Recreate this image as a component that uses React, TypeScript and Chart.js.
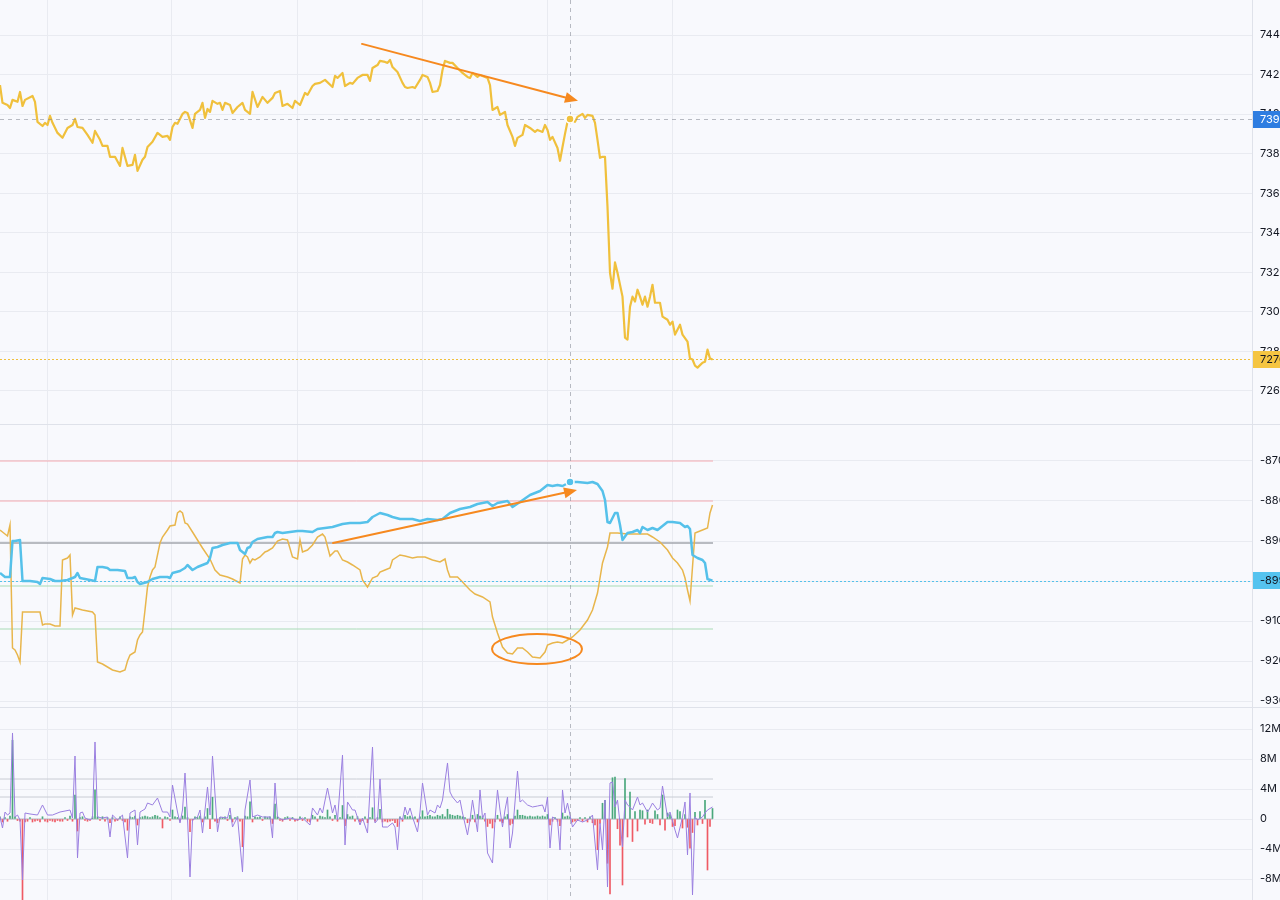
import React, { useEffect, useRef } from 'react';
import { Chart, registerables } from 'chart.js';

Chart.register(...registerables);
Chart.defaults.font.family = 'Inter, "Noto Sans", sans-serif';

// ---------- shared x domain (bar index) ----------
const X_MIN = 0;
const X_MAX = 500.8;
const GRID_X = [18.8, 68.8, 118.8, 168.8, 218.8, 268.8];
const CROSS_X = 228;
const LEVEL_END = 285.2;

// ---------- price panel ----------
const priceTicks = [7260, 7280, 7300, 7320, 7340, 7360, 7380, 7400, 7420, 7440];
const priceIdx = [
  0, 1, 3, 4, 5, 7, 8, 9, 10, 13, 14, 15, 17, 18, 19, 20, 21, 23, 25, 27, 29, 30, 31, 33, 35, 37, 38, 40, 41, 43,
  44, 46, 48, 49, 51, 53, 54, 55, 57, 58, 59, 61, 63, 64, 65, 67, 68, 69, 70, 71, 73, 74, 75, 77, 78, 80, 81, 82, 83, 84,
  85, 87, 88, 89, 90, 92, 93, 95, 97, 98, 100, 101, 103, 105, 107, 109, 110, 112, 113, 115, 117, 118, 120, 122, 123, 125, 126, 128, 130, 133,
  134, 135, 137, 138, 140, 141, 143, 145, 147, 148, 149, 151, 152, 154, 155, 156, 157, 159, 161, 162, 163, 165, 166, 168, 169, 171, 172, 173, 175, 176,
  177, 178, 180, 181, 183, 185, 187, 188, 189, 191, 192, 193, 195, 196, 197, 199, 200, 202, 203, 205, 206, 207, 209, 210, 212, 214, 215, 217, 218, 219,
  220, 221, 223, 224, 225, 226, 227, 228, 230, 231, 233, 234, 235, 237, 238, 239, 240, 241, 242, 243, 244, 245, 246, 247, 249, 250, 251, 252, 253, 254,
  255, 256, 257, 258, 259, 260, 261, 262, 264, 265, 267, 268, 269, 270, 272, 273, 275, 276, 277, 278, 279, 281, 282, 283, 284, 285,
];
const priceVal = [
  7414.7, 7405.7, 7404.6, 7403.1, 7407.2, 7406.2, 7411.2, 7404.1, 7407.2, 7409.2, 7406.2, 7396.1, 7394.0, 7395.6, 7394.5, 7399.1, 7395.6, 7390.5, 7388.0, 7393.0, 7394.5, 7397.6, 7393.5, 7393.0, 7389.5, 7385.5, 7391.5, 7387.0, 7383.9, 7383.9,
  7378.4, 7378.4, 7373.8, 7382.9, 7373.8, 7374.3, 7379.4, 7371.3, 7376.9, 7378.4, 7383.4, 7386.0, 7390.5, 7389.5, 7388.5, 7389.0, 7387.0, 7393.5, 7395.6, 7395.1, 7400.1, 7401.1, 7400.6, 7393.0, 7400.1, 7402.1, 7405.7, 7398.1, 7402.6, 7401.1,
  7406.7, 7405.2, 7405.7, 7402.1, 7405.7, 7404.6, 7400.6, 7403.6, 7405.7, 7402.1, 7400.1, 7411.2, 7403.6, 7408.7, 7405.7, 7408.2, 7410.7, 7411.7, 7404.1, 7405.2, 7403.1, 7406.7, 7404.6, 7410.7, 7409.7, 7414.2, 7415.3, 7415.8, 7417.3, 7413.7,
  7419.3, 7418.3, 7420.8, 7414.2, 7415.8, 7415.3, 7418.3, 7419.8, 7419.8, 7416.8, 7423.3, 7424.8, 7426.9, 7426.4, 7425.9, 7427.4, 7423.8, 7421.3, 7415.8, 7413.7, 7413.2, 7413.7, 7413.2, 7417.3, 7419.8, 7418.8, 7415.8, 7411.2, 7411.7, 7414.7,
  7422.3, 7426.9, 7425.9, 7425.9, 7423.3, 7420.8, 7418.8, 7418.3, 7420.8, 7418.8, 7419.8, 7419.3, 7418.3, 7414.7, 7402.1, 7403.6, 7399.6, 7401.1, 7394.5, 7388.5, 7383.9, 7388.0, 7389.5, 7394.5, 7393.0, 7391.0, 7392.0, 7391.0, 7394.5, 7392.0,
  7387.0, 7388.5, 7382.9, 7376.4, 7383.4, 7390.0, 7396.1, 7397.5, 7396.1, 7398.6, 7400.1, 7398.1, 7399.6, 7399.1, 7395.6, 7387.0, 7377.9, 7378.4, 7378.4, 7353.1, 7319.8, 7311.7, 7325.0, 7319.8, 7307.7, 7287.0, 7286.0, 7302.6, 7307.7, 7305.2,
  7311.2, 7307.7, 7303.6, 7307.7, 7302.6, 7307.7, 7313.7, 7304.6, 7304.6, 7297.6, 7296.0, 7293.5, 7295.1, 7288.5, 7293.5, 7288.5, 7285.0, 7276.4, 7275.9, 7272.8, 7271.8, 7274.3, 7274.8, 7280.9, 7276.4, 7276.0,
];
const priceArrow = { from: [144.8, 7435.5], to: [231.2, 7406.7] };

// ---------- oscillator panel ----------
const oscTicks = [-930, -920, -910, -900, -890, -880, -870];
const cyanIdx = [
  0, 2, 4, 5, 6, 8, 9, 12, 15, 16, 17, 20, 22, 24, 27, 30, 31, 32, 34, 36, 38, 39, 41, 43, 44, 47, 50, 51, 53, 54,
  55, 56, 59, 61, 64, 67, 68, 69, 72, 74, 75, 77, 79, 81, 83, 84, 85, 87, 89, 92, 95, 96, 98, 99, 100, 101, 103, 107, 109, 110,
  111, 113, 116, 119, 121, 125, 127, 130, 133, 137, 140, 144, 147, 149, 152, 155, 157, 160, 163, 165, 168, 171, 175, 177, 180, 184, 188, 191, 195, 197,
  199, 201, 203, 205, 208, 212, 216, 219, 221, 223, 225, 228, 231, 235, 237, 239, 241, 242, 243, 244, 246, 247, 248, 249, 251, 253, 255, 256, 257, 259,
  261, 263, 265, 267, 269, 272, 274, 275, 276, 277, 279, 281, 282, 283, 285,
];
const cyanVal = [
  -898, -899, -899, -890, -890, -889.75, -900, -900, -900.25, -900.75, -899.25, -899.5, -900, -900, -899.75, -899, -898, -899.25, -899.5, -899.75, -900, -896.5, -896.5, -896.75, -897.25, -897.25, -897.5, -899.25, -899.25, -899,
  -900.25, -900.75, -900.25, -899.5, -899, -899, -899.25, -898, -897.5, -896.75, -896, -897.25, -896.5, -896, -895.5, -894.25, -891.75, -891.5, -891, -890.5, -890.5, -892.25, -893.25, -891.75, -891.5, -890.25, -889.5, -889, -889, -888,
  -887.75, -888, -887.75, -887.5, -887.5, -887.75, -887, -886.75, -886.5, -885.75, -885.5, -885.5, -885.25, -884, -883, -883.5, -884, -884.5, -884.5, -884.5, -885, -884.5, -884.75, -884.5, -883, -882, -881.5, -880.75, -880.25, -881.25,
  -880.5, -880.25, -880, -881.5, -880.25, -878.5, -877.5, -876, -876.25, -876, -876.25, -875.25, -875.25, -875.5, -875.25, -875.75, -877.5, -879.75, -885.25, -885.5, -883, -883, -886, -889.75, -888, -887.75, -887.25, -888, -886.5, -887.25,
  -886.75, -887.25, -886.25, -885.25, -885.25, -885.5, -886.5, -886.25, -887, -893.5, -894.25, -894.75, -895.5, -899.5, -899.9,
];
const goldIdx = [
  0, 1, 3, 4, 5, 6, 7, 8, 9, 12, 16, 17, 18, 20, 22, 24, 25, 27, 28, 29, 30, 33, 37, 38, 39, 41, 43, 45, 48, 50,
  51, 52, 54, 55, 56, 57, 58, 59, 60, 61, 62, 64, 65, 67, 68, 70, 71, 72, 73, 74, 75, 77, 79, 81, 84, 86, 88, 91, 93, 96,
  97, 98, 99, 100, 101, 102, 104, 106, 107, 109, 111, 113, 115, 117, 119, 120, 121, 123, 125, 127, 129, 130, 132, 134, 135, 137, 139, 141, 144, 145,
  147, 149, 151, 152, 154, 156, 157, 160, 162, 165, 167, 170, 173, 176, 178, 179, 180, 183, 185, 188, 190, 193, 196, 197, 199, 201, 203, 205, 207, 209,
  211, 213, 216, 218, 219, 221, 223, 225, 227, 229, 232, 235, 237, 239, 241, 243, 244, 247, 251, 255, 259, 261, 264, 267, 269, 271, 273, 274, 275, 276,
  277, 278, 279, 281, 283, 284, 285,
];
const goldVal = [
  -887.25, -887.75, -888.75, -886, -916.75, -917.25, -918.5, -920.25, -907.75, -907.75, -907.75, -911, -910.75, -910.75, -911.25, -911.25, -894.75, -894.25, -893.5, -908.5, -906.75, -907.25, -907.75, -908.5, -920.25, -920.75, -921.5, -922.25, -922.75, -922.25,
  -920, -918.5, -917.75, -914.75, -913.5, -912.75, -907.25, -901.5, -899, -897.25, -896.5, -890.5, -889, -887.25, -886.25, -886, -883, -882.5, -883, -885.5, -885.75, -887.75, -889.75, -891.75, -894.5, -897.25, -898.5, -899, -899.5, -900.5,
  -894.5, -893.5, -894, -895.5, -894.5, -894.75, -894, -892.75, -892.5, -891.75, -890, -889.5, -889.75, -894, -894.5, -889.75, -892.75, -892.25, -891, -889, -888.25, -889, -893.75, -892.5, -892.5, -894.75, -895.25, -896, -897.25, -899.75,
  -901.5, -899.25, -898.75, -897.75, -897.25, -896.75, -894.75, -893.5, -893.75, -894.25, -894, -894, -894.75, -895.25, -894.5, -897.25, -899, -899, -900.25, -902.25, -903.25, -904, -905.25, -909, -913, -916.5, -918, -918.25, -916.75, -916.75,
  -917.75, -919, -919.25, -917.75, -916, -915.5, -915.25, -915.5, -914.75, -914, -912.25, -909.75, -907.25, -903, -895.5, -891.5, -888, -888, -888.25, -888.25, -888.25, -889, -890.25, -892.25, -894.25, -895.5, -897.25, -899.25, -902.25, -905,
  -896.5, -888, -887.75, -887.25, -886.75, -883, -881,
];
const oscPinkLevels = [-870, -880];
const oscGrayLevels = [-890.5];
const oscGreenLevels = [-901.25, -912];
const oscArrow = { from: [133.2, -890.5], to: [230.8, -877.25] };
const oscEllipse = { cx: 214.8, cy: -917, rx: 18, ry: 3.75 };

// ---------- volume delta panel (millions) ----------
const volTicks = [-8, -4, 0, 4, 8, 12];
const histVal = [
  0.3, -0.4, 0.2, -0.3, 0.4, 10.5, 0.3, -0.2, -0.3, -11.5,
  -0.4, -0.3, 0.2, -0.4, -0.3, -0.2, -0.4, 0.3, -0.3, -0.4,
  -0.2, -0.3, -0.4, -0.2, -0.3, -0.3, 0.2, -0.2, 0.4, -0.3,
  3.2, -1.6, 0.2, 0.3, -0.2, -0.3, -0.2, 0.3, 3.9, 0.3,
  -0.2, 0.3, -0.3, 0.2, -0.5, 0.2, -0.3, -0.2, 0.3, -0.2,
  -0.4, -1.5, 0.3, 0.2, 0.4, -0.8, 0.2, 0.3, 0.4, 0.3,
  0.2, 0.3, 0.5, 0.4, 0.2, -1.2, 0.3, 0.2, -0.2, 1.2,
  0.3, 0.2, -0.3, 0.4, 1.6, 0.2, -1.7, -0.2, 0.3, 0.2,
  0.4, -0.4, 0.3, 1.4, -1.3, 2.9, -0.3, -0.5, 0.2, 0.2,
  0.3, -0.2, 0.5, -0.4, 0.2, 0.3, -0.3, -3.7, 0.4, 0.3,
  2.3, -0.4, 0.3, 0.2, 0.3, -0.2, 0.3, 0.2, 0.3, -0.6,
  2.0, 0.3, -0.2, -0.3, 0.2, 0.3, -0.2, 0.2, -0.3, -0.2,
  0.3, -0.2, 0.2, -0.3, -0.4, 0.5, 0.3, -0.3, 0.4, 0.3,
  0.2, 1.2, 0.3, -0.2, 0.5, -0.3, 0.2, 1.8, -0.9, 0.6,
  0.3, 0.4, -0.3, 0.3, -0.4, -0.2, 0.3, -0.5, 0.2, 1.5,
  -0.3, 0.2, 1.3, -0.4, -0.3, -0.4, -0.3, -0.2, -0.5, -1.0,
  0.3, -0.3, 0.5, 0.3, 0.4, 0.2, 0.3, -0.4, 0.3, 1.1,
  0.3, 0.4, 0.5, 0.3, 0.3, 0.5, 0.4, 0.6, 0.3, 1.3,
  0.6, 0.5, 0.4, 0.5, 0.4, 0.3, 0.2, -0.5, -0.3, 0.5,
  -0.4, 0.6, 0.4, 0.3, -0.3, -1.0, -0.6, -1.2, -0.4, 0.5,
  -0.3, -0.5, 0.3, 0.6, -0.8, -0.6, 0.4, 1.2, 0.5, 0.5,
  0.4, 0.3, 0.4, 0.3, 0.3, 0.4, 0.3, 0.4, 0.3, 0.6,
  -0.8, -0.3, 0.2, -0.3, -0.9, 0.8, 0.3, 0.4, 0.3, -0.4,
  -0.3, -0.2, 0.2, -0.3, 0.2, -0.4, 0.3, -0.5, -0.8, -4.1,
  -0.6, 2.1, 2.5, -5.9, -10.0, 5.5, 5.6, -1.3, -3.5, -8.8,
  5.4, -2.4, 3.6, -3.0, 1.0, -1.6, 1.2, 1.1, -0.7, 1.2,
  -0.5, -0.6, 1.1, 0.6, -0.8, 3.2, -1.5, 0.8, 0.6, -1.0,
  -0.9, 1.2, 1.0, -1.2, 0.6, -1.1, -3.9, -1.8, 0.9, -0.8,
  1.0, -0.6, 2.5, -6.8, -1.0, 1.4,
];
const purpleIdx = [
  0, 1, 2, 3, 4, 5, 6, 7, 8, 9, 10, 12, 15, 17, 19, 21, 24, 28, 29, 30, 31, 32, 33, 34, 36, 37, 38, 39, 41, 43,
  44, 45, 47, 49, 51, 52, 54, 55, 56, 58, 59, 61, 63, 65, 67, 68, 69, 71, 72, 73, 74, 75, 76, 77, 79, 80, 81, 83, 84, 85,
  87, 88, 91, 92, 93, 95, 97, 98, 100, 101, 103, 105, 108, 109, 110, 111, 113, 116, 119, 121, 124, 125, 127, 128, 129, 131, 133, 134, 135, 137,
  138, 139, 141, 142, 144, 145, 147, 149, 150, 151, 152, 153, 155, 157, 158, 159, 160, 161, 162, 163, 164, 165, 167, 168, 169, 171, 172, 174, 175, 176,
  177, 179, 180, 181, 183, 184, 185, 187, 188, 189, 191, 192, 193, 194, 195, 197, 198, 199, 200, 201, 202, 203, 204, 205, 207, 208, 209, 211, 213, 215,
  217, 218, 219, 220, 221, 223, 224, 225, 226, 227, 229, 231, 233, 235, 236, 237, 239, 240, 241, 242, 243, 244, 245, 246, 247, 249, 250, 251, 252, 253,
  255, 256, 257, 259, 260, 261, 263, 264, 265, 267, 268, 270, 271, 273, 274, 275, 276, 277, 278, 279, 281, 282, 283, 285,
];
const purpleVal = [
  0.27, -1.2, 0.93, 0.53, 0.8, 11.47, 0.27, 0.53, -0.13, -8.13, 0.8, 0.67, 0.53, 1.87, 0.53, 0.53, 0.93, 1.2, 0.13, 8.4, -5.2, 0.8, 0.93, 0.13, -0.13, 0.13, 10.27, 0.27, 0.13, 0.27,
  -2.4, 0.53, -0.13, 0.53, -5.2, 0.8, 1.2, -3.47, 0.93, 1.33, 2.13, 1.87, 2.8, 0.93, 0.93, 0.27, 4.53, 0.93, -0.53, 1.2, 6.13, 0.13, -7.73, -0.13, 0.27, 1.2, -1.87, 4.27, 0.53, 8.4,
  -1.73, 0.27, 0.13, 1.47, -1.07, 0.27, -7.07, 1.2, 5.2, 0.27, 0.53, 0.27, 0.27, -2.53, 4.8, 0.27, -0.13, 0.13, -0.13, 0.13, -0.8, 1.47, 0.53, 1.47, 0.8, 4.13, 0.8, 1.87, -0.13, 8.53,
  -3.47, 2.27, 1.2, 1.2, -0.8, 0.13, -1.87, 9.6, -0.53, -0.13, 5.33, -1.07, -1.07, -0.53, -1.07, -4.13, 0.27, -0.13, 1.6, 0.53, 1.47, 0.27, -1.73, 0.93, 4.8, 0.53, 1.2, 0.8, 1.87, 1.47,
  2.53, 7.47, 3.6, 2.93, 2.13, 2.53, 0.8, -2.13, -0.13, 2.53, -1.73, 3.87, 0.13, 0.8, -4.53, -5.87, -0.13, 3.87, 1.2, -1.07, 1.2, 2.93, -3.87, -1.87, 6.4, 2.27, 2.53, 1.87, 1.6, 1.73,
  1.87, 0.93, 2.93, -3.87, 0.27, -0.13, -4.13, 3.87, 0.8, 2.13, -1.07, -0.13, -0.4, -0.13, 0.13, 0.53, -6.8, -0.53, -4.13, 2.53, -9.07, 4.8, 4.93, 1.6, 2.53, -3.73, 2.53, 1.87, 1.6, 1.2,
  2.93, 1.87, 2.13, 0.93, 1.47, 2.13, 1.2, 1.47, 4.4, 0.27, 0.93, -1.47, -2.53, 0.27, 2.27, -4.8, 3.47, -10.13, 0.27, -0.13, 0.27, 0.8, 1.2, 1.6,
];
const volGrayLevels = [5.33, 2.93];
const volZeroLevel = [0];

// ---------- styles ----------
const BG = '#f8f9fd';
const GRID = '#e9ebf1';
const SEP = '#dfe2ea';
const AXIS_TEXT = '#131722';
const GOLD = '#f0c03c';
const GOLD_OSC = '#e8b64c';
const CYAN = '#55c1ea';
const PURPLE = '#9a7fe0';
const GREEN_BAR = '#4aa87c';
const RED_BAR = '#ef5a64';
const ORANGE = '#f6891f';
const CROSS = 'rgba(130,134,146,0.55)';

const pts = (xs: number[], ys: number[]) => xs.map((x, i) => ({ x, y: ys[i] }));
const level = (v: number, color: string, width = 1, order = 5) => ({
  type: 'line',
  data: [{ x: 0, y: v }, { x: LEVEL_END, y: v }],
  borderColor: color,
  borderWidth: width,
  pointRadius: 0,
  order,
});

function drawArrow(ctx: any, x1: number, y1: number, x2: number, y2: number) {
  const ang = Math.atan2(y2 - y1, x2 - x1);
  const head = 13;
  const hw = 5.5;
  const bx = x2 - head * Math.cos(ang);
  const by = y2 - head * Math.sin(ang);
  ctx.strokeStyle = ORANGE;
  ctx.fillStyle = ORANGE;
  ctx.lineWidth = 2;
  ctx.lineCap = 'round';
  ctx.beginPath();
  ctx.moveTo(x1, y1);
  ctx.lineTo(bx, by);
  ctx.stroke();
  ctx.beginPath();
  ctx.moveTo(x2, y2);
  ctx.lineTo(bx + hw * Math.sin(ang), by - hw * Math.cos(ang));
  ctx.lineTo(bx - hw * Math.sin(ang), by + hw * Math.cos(ang));
  ctx.closePath();
  ctx.fill();
}

type Spec = {
  crossY?: number;
  lastLines?: { value: number; color: string }[];
  labels?: { value: number; text: string; bg: string; fg: string }[];
  point?: { x: number; y: number; color: string };
  arrows?: { from: number[]; to: number[] }[];
  ellipse?: { cx: number; cy: number; rx: number; ry: number };
};

function overlay(spec: Spec) {
  return {
    id: 'overlay',
    afterDatasetsDraw(chart: any) {
      const { ctx, chartArea: a, scales } = chart;
      const xs = scales.x;
      const ys = scales.y;
      ctx.save();
      ctx.lineWidth = 1;
      for (const l of spec.lastLines || []) {
        const y = Math.round(ys.getPixelForValue(l.value)) + 0.5;
        ctx.strokeStyle = l.color;
        ctx.setLineDash([2, 2]);
        ctx.beginPath();
        ctx.moveTo(a.left, y);
        ctx.lineTo(a.right, y);
        ctx.stroke();
      }
      ctx.strokeStyle = CROSS;
      ctx.setLineDash([4, 4]);
      const cx = Math.round(xs.getPixelForValue(CROSS_X)) + 0.5;
      ctx.beginPath();
      ctx.moveTo(cx, a.top);
      ctx.lineTo(cx, a.bottom);
      ctx.stroke();
      if (spec.crossY !== undefined) {
        const cy = Math.round(ys.getPixelForValue(spec.crossY)) + 0.5;
        ctx.beginPath();
        ctx.moveTo(a.left, cy);
        ctx.lineTo(a.right, cy);
        ctx.stroke();
      }
      ctx.setLineDash([]);
      if (spec.point) {
        const px = xs.getPixelForValue(spec.point.x);
        const py = ys.getPixelForValue(spec.point.y);
        ctx.fillStyle = spec.point.color;
        ctx.strokeStyle = '#ffffff';
        ctx.lineWidth = 1.5;
        ctx.beginPath();
        ctx.arc(px, py, 4, 0, Math.PI * 2);
        ctx.fill();
        ctx.stroke();
      }
      for (const ar of spec.arrows || []) {
        drawArrow(
          ctx,
          xs.getPixelForValue(ar.from[0]),
          ys.getPixelForValue(ar.from[1]),
          xs.getPixelForValue(ar.to[0]),
          ys.getPixelForValue(ar.to[1])
        );
      }
      if (spec.ellipse) {
        const e = spec.ellipse;
        const ex = xs.getPixelForValue(e.cx);
        const ey = ys.getPixelForValue(e.cy);
        const rx = Math.abs(xs.getPixelForValue(e.cx + e.rx) - ex);
        const ry = Math.abs(ys.getPixelForValue(e.cy + e.ry) - ey);
        ctx.strokeStyle = ORANGE;
        ctx.lineWidth = 2;
        ctx.beginPath();
        ctx.ellipse(ex, ey, rx, ry, 0, 0, Math.PI * 2);
        ctx.stroke();
      }
      ctx.restore();
    },
    afterDraw(chart: any) {
      const { ctx, chartArea: a, scales, width } = chart;
      const ys = scales.y;
      ctx.save();
      for (const lb of spec.labels || []) {
        const y = ys.getPixelForValue(lb.value);
        ctx.fillStyle = lb.bg;
        ctx.fillRect(a.right + 1, Math.round(y - 8.5), width - a.right, 17);
        ctx.fillStyle = lb.fg;
        ctx.font = '11px Inter, "Noto Sans", sans-serif';
        ctx.textBaseline = 'middle';
        ctx.textAlign = 'left';
        ctx.fillText(lb.text, a.right + 8, y + 0.5);
      }
      ctx.restore();
    },
  };
}

function scalesFor(yMin: number, yMax: number, ticks: number[], fmt: (v: number) => string) {
  return {
    x: {
      type: 'linear',
      min: X_MIN,
      max: X_MAX,
      offset: false,
      afterBuildTicks: (s: any) => {
        s.ticks = GRID_X.map((v) => ({ value: v }));
      },
      afterFit: (s: any) => {
        s.height = 0;
        s.paddingLeft = 0;
        s.paddingRight = 0;
      },
      ticks: { display: false },
      grid: { color: GRID, drawTicks: false, offset: false },
      border: { display: false },
    },
    y: {
      position: 'right',
      min: yMin,
      max: yMax,
      afterBuildTicks: (s: any) => {
        s.ticks = ticks.map((v) => ({ value: v }));
      },
      afterFit: (s: any) => {
        s.width = 28;
        s.paddingTop = 0;
        s.paddingBottom = 0;
      },
      ticks: { padding: 8, color: AXIS_TEXT, font: { size: 11 }, callback: (v: any) => fmt(Number(v)), autoSkip: false },
      grid: { color: GRID, drawTicks: false },
      border: { display: true, color: SEP },
    },
  };
}

const common = {
  responsive: false,
  animation: false,
  events: [],
  layout: { padding: 0, autoPadding: false },
  plugins: { legend: { display: false }, tooltip: { enabled: false } },
};

export default function App() {
  const topRef = useRef<HTMLCanvasElement>(null);
  const midRef = useRef<HTMLCanvasElement>(null);
  const botRef = useRef<HTMLCanvasElement>(null);

  useEffect(() => {
    document.body.style.margin = '0';
    document.body.style.background = BG;

    const lastPrice = priceVal[priceVal.length - 1];
    const crossPrice = priceVal[priceIdx.indexOf(CROSS_X)];
    const lastCyan = cyanVal[cyanVal.length - 1];
    const crossCyan = cyanVal[cyanIdx.indexOf(CROSS_X)];

    const top = new Chart(topRef.current as any, {
      type: 'line',
      data: {
        datasets: [
          {
            data: pts(priceIdx, priceVal),
            borderColor: GOLD,
            borderWidth: 2.2,
            pointRadius: 0,
            tension: 0,
            borderJoinStyle: 'round',
          },
        ],
      },
      options: { ...common, scales: scalesFor(7243.3, 7457.7, priceTicks, (v) => String(v)) } as any,
      plugins: [
        overlay({
          crossY: crossPrice,
          lastLines: [{ value: lastPrice, color: GOLD }],
          point: { x: CROSS_X, y: crossPrice, color: GOLD },
          arrows: [priceArrow],
          labels: [
            { value: crossPrice, text: String(Math.trunc(crossPrice)), bg: '#2e7de1', fg: '#ffffff' },
            { value: lastPrice, text: String(Math.trunc(lastPrice)), bg: '#f5c542', fg: AXIS_TEXT },
          ],
        }),
      ],
    } as any);

    const mid = new Chart(midRef.current as any, {
      type: 'line',
      data: {
        datasets: [
          ...oscPinkLevels.map((v) => level(v, '#f4aab1')),
          ...oscGrayLevels.map((v) => level(v, '#a3a6ad', 1.5)),
          ...oscGreenLevels.map((v) => level(v, '#a9dbb6')),
          {
            data: pts(goldIdx, goldVal),
            borderColor: GOLD_OSC,
            borderWidth: 1.5,
            pointRadius: 0,
            tension: 0,
            order: 2,
          },
          {
            data: pts(cyanIdx, cyanVal),
            borderColor: CYAN,
            borderWidth: 2.5,
            pointRadius: 0,
            tension: 0,
            borderJoinStyle: 'round',
            order: 1,
          },
        ],
      },
      options: { ...common, scales: scalesFor(-931.5, -861, oscTicks, (v) => String(v)) } as any,
      plugins: [
        overlay({
          lastLines: [{ value: lastCyan, color: CYAN }],
          point: { x: CROSS_X, y: crossCyan, color: CYAN },
          arrows: [oscArrow],
          ellipse: oscEllipse,
          labels: [{ value: lastCyan, text: String(Math.trunc(lastCyan)), bg: '#55c3ef', fg: AXIS_TEXT }],
        }),
      ],
    } as any);

    const bot = new Chart(botRef.current as any, {
      type: 'bar',
      data: {
        datasets: [
          ...volGrayLevels.map((v) => level(v, '#c9ccd4')),
          ...volZeroLevel.map((v) => level(v, '#b3b6bf')),
          {
            type: 'bar',
            data: histVal.map((v, i) => ({ x: i, y: v })),
            backgroundColor: histVal.map((v) => (v >= 0 ? GREEN_BAR : RED_BAR)),
            barThickness: 1,
            order: 2,
          },
          {
            type: 'line',
            data: pts(purpleIdx, purpleVal),
            borderColor: PURPLE,
            borderWidth: 1,
            pointRadius: 0,
            tension: 0,
            order: 1,
          },
        ],
      },
      options: {
        ...common,
        scales: scalesFor(-10.8, 14.8, volTicks, (v) => (v === 0 ? '0' : `${v}M`)),
      } as any,
      plugins: [overlay({})],
    } as any);

    return () => {
      top.destroy();
      mid.destroy();
      bot.destroy();
    };
  }, []);

  return (
    <div style={{ position: 'relative', width: 1280, height: 900, background: BG, overflow: 'hidden' }}>
      <canvas ref={topRef} width={1280} height={424} style={{ position: 'absolute', left: 0, top: 0 }} />
      <div style={{ position: 'absolute', left: 0, top: 424, width: 1280, height: 1, background: SEP }} />
      <canvas ref={midRef} width={1280} height={282} style={{ position: 'absolute', left: 0, top: 425 }} />
      <div style={{ position: 'absolute', left: 0, top: 707, width: 1280, height: 1, background: SEP }} />
      <canvas ref={botRef} width={1280} height={192} style={{ position: 'absolute', left: 0, top: 708 }} />
    </div>
  );
}
